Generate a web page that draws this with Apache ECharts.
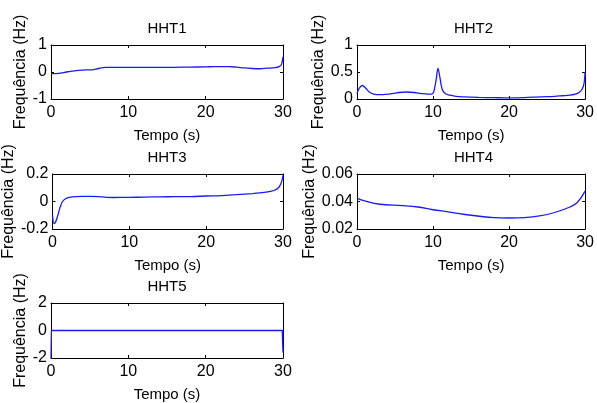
<!DOCTYPE html>
<html><head><meta charset="utf-8">
<script src="https://cdn.jsdelivr.net/npm/echarts@6/dist/echarts.min.js"></script>
<style>html,body{margin:0;padding:0;background:#fff}#c{width:597px;height:403px}</style>
</head><body><div id="c"></div>
<script>
const titles = ['HHT1','HHT2','HHT3','HHT4','HHT5'];
const xTicks = [0, 10, 20, 30];
const t1 = [0, 1, 2, 3, 4, 5, 5.5, 6, 6.5, 7, 8, 10, 12, 14, 16, 18, 20, 21, 23, 24, 25, 26, 27, 28, 29, 29.5, 29.8, 30];
const v1 = [-0.06, -0.05, 0.0, 0.04, 0.07, 0.08, 0.09, 0.12, 0.15, 0.17, 0.175, 0.175, 0.17, 0.17, 0.175, 0.18, 0.19, 0.2, 0.2, 0.18, 0.15, 0.13, 0.12, 0.14, 0.16, 0.2, 0.28, 0.56];
const t2 = [0, 0.3, 0.7, 1.1, 1.6, 2.2, 3, 4, 5, 6, 6.6, 7.5, 8.5, 9.3, 9.8, 10.1, 10.4, 10.65, 10.9, 11.2, 11.6, 12.2, 13, 14, 16, 18, 20, 22, 24, 26, 27, 28, 28.7, 29.2, 29.6, 29.85, 30];
const v2 = [0.1, 0.2, 0.25, 0.21, 0.13, 0.09, 0.08, 0.09, 0.11, 0.125, 0.13, 0.12, 0.1, 0.09, 0.09, 0.14, 0.35, 0.57, 0.4, 0.18, 0.1, 0.07, 0.05, 0.04, 0.03, 0.025, 0.02, 0.025, 0.04, 0.05, 0.06, 0.07, 0.09, 0.12, 0.18, 0.28, 0.5];
const t3 = [0, 0.2, 0.4, 0.7, 1.0, 1.3, 1.7, 2.2, 3, 4, 5, 6, 7, 8, 10, 12, 14, 16, 18, 20, 22, 24, 26, 27, 28, 28.8, 29.3, 29.6, 29.85, 30];
const v3 = [-0.1, -0.16, -0.15, -0.1, -0.04, 0.0, 0.02, 0.03, 0.035, 0.037, 0.037, 0.036, 0.03, 0.029, 0.03, 0.032, 0.034, 0.035, 0.036, 0.04, 0.043, 0.05, 0.057, 0.062, 0.07, 0.08, 0.095, 0.115, 0.15, 0.19];
const t4 = [0, 1, 3, 6, 8, 10, 12, 15, 18, 20, 22, 24, 26, 28, 29, 30];
const v4 = [0.0425, 0.0405, 0.038, 0.037, 0.036, 0.034, 0.0325, 0.03, 0.0283, 0.028, 0.0283, 0.0295, 0.032, 0.036, 0.0395, 0.0475];
const t5 = [0, 0.05, 2.3, 10, 20, 28.5, 29.9, 30];
const v5 = [-2, 0, 0, 0, 0, 0, 0, -1.6];
const yMin = [-1, 0, -0.2, 0.02, -2];
const yMax = [1, 1, 0.2, 0.06, 2];
const yStep = [1, 0.5, 0.2, 0.02, 2];

const T = [t1, t2, t3, t4, t5], V = [v1, v2, v3, v4, v5];
const smooth = [0.3, 0.3, 0.3, 0.4, false];
const boxes = [
  {l: 51, t: 45, w: 232, h: 54},
  {l: 357, t: 45, w: 233, h: 54},
  {l: 51, t: 174, w: 232, h: 55},
  {l: 357, t: 174, w: 233, h: 55},
  {l: 51, t: 303, w: 232, h: 55}
];
const yNameGap = [14, 20, 26, 29, 14];
const FONT = "'Liberation Sans', Arial, sans-serif";
const grid = [], xAxis = [], yAxis = [], series = [], title = [];
boxes.forEach((b, i) => {
  grid.push({left: b.l, top: b.t, width: b.w, height: b.h, containLabel: false});
  title.push({text: titles[i], left: b.l + b.w / 2, top: b.t - 24, textAlign: 'center', padding: 0,
    textStyle: {fontFamily: FONT, fontSize: 15, fontWeight: 'normal', color: '#000'}});
  const axLine = {show: true, onZero: false, lineStyle: {color: '#000', width: 1}};
  const tick = {show: true, inside: true, length: 3, lineStyle: {color: '#000'}};
  xAxis.push({gridIndex: i, type: 'value', min: xTicks[0], max: xTicks[xTicks.length - 1], interval: 10,
    position: 'bottom', axisLine: axLine, axisTick: tick, splitLine: {show: false},
    axisLabel: {fontFamily: FONT, fontSize: 16, color: '#000', margin: 6},
    name: 'Tempo (s)', nameLocation: 'middle', nameGap: 29,
    nameTextStyle: {fontFamily: FONT, fontSize: 15, color: '#000'}});
  xAxis.push({gridIndex: i, type: 'value', min: 0, max: 30, interval: 10, position: 'top',
    axisLine: axLine, axisTick: tick, axisLabel: {show: false}, splitLine: {show: false}});
  yAxis.push({gridIndex: i, type: 'value', min: yMin[i], max: yMax[i], interval: yStep[i],
    position: 'left', axisLine: axLine, axisTick: tick, splitLine: {show: false},
    axisLabel: {fontFamily: FONT, fontSize: 16, color: '#000', margin: 4},
    name: 'Frequência (Hz)', nameLocation: 'middle', nameGap: yNameGap[i], nameRotate: 90,
    nameTextStyle: {fontFamily: FONT, fontSize: 16, color: '#000'}});
  yAxis.push({gridIndex: i, type: 'value', min: yMin[i], max: yMax[i], interval: yStep[i], position: 'right',
    axisLine: axLine, axisTick: tick, axisLabel: {show: false}, splitLine: {show: false}});
  series.push({type: 'line', xAxisIndex: 2 * i, yAxisIndex: 2 * i, showSymbol: false, symbol: 'none',
    smooth: smooth[i], clip: true, lineStyle: {color: '#1a1aff', width: 1.3},
    data: T[i].map((t, k) => [t, V[i][k]])});
});
const chart = echarts.init(document.getElementById('c'), null, {renderer: 'canvas'});
chart.setOption({animation: false, backgroundColor: '#fff', title, grid, xAxis, yAxis, series});
</script></body></html>
